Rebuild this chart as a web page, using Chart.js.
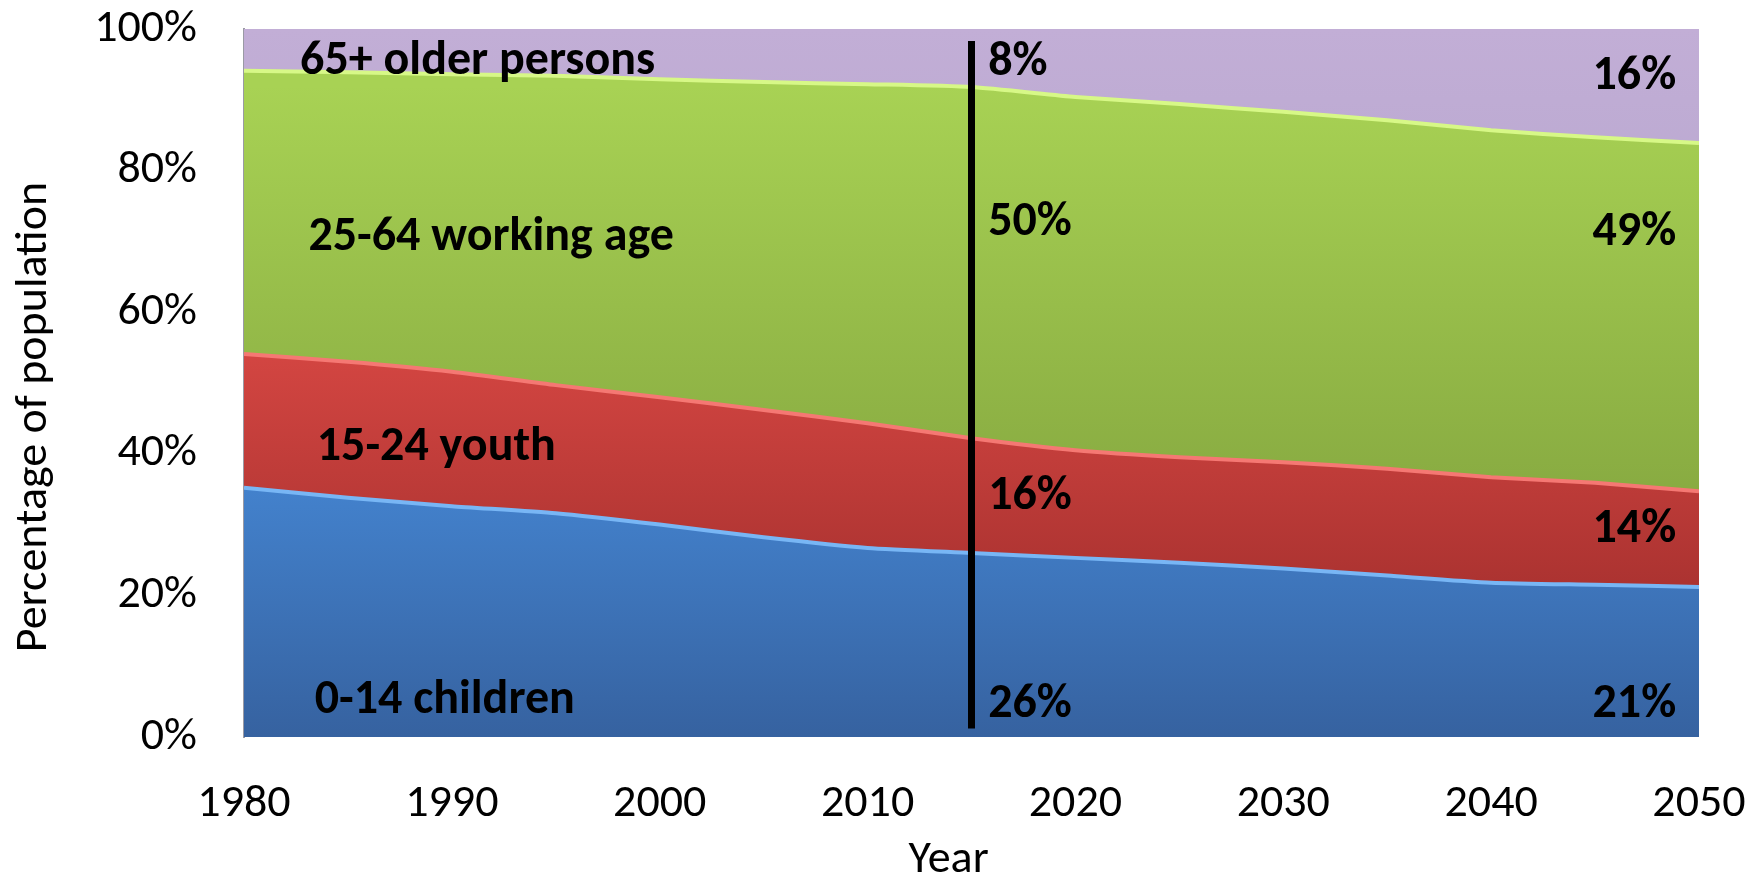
<!DOCTYPE html>
<html>
<head>
<meta charset="utf-8">
<script src="https://cdn.jsdelivr.net/npm/chart.js@4.4.1/dist/chart.umd.min.js"></script>
<style>
  html, body { margin: 0; padding: 0; background: #fff; }
  #wrap { width: 1750px; height: 873px; }
</style>
</head>
<body>
<div id="wrap"><canvas id="myChart" width="1750" height="873"></canvas></div>
<script>
// anos (a cada 5)
const years = [1980, 1985, 1990, 1995, 2000, 2005, 2010, 2015, 2020, 2025, 2030, 2035, 2040, 2045, 2050];
const groupNames = ['0-14 children', '15-24 youth', '25-64 working age', '65+ older persons'];
// percentuais
const children = [35.2, 33.8, 32.6, 31.6, 30.0, 28.2, 26.7, 26.0, 25.3, 24.6, 23.8, 22.8, 21.8, 21.5, 21.2];
const youth    = [18.9, 19.2, 19.0, 18.1, 18.0, 18.0, 17.6, 16.2, 15.2, 14.9, 15.0, 15.1, 14.9, 14.4, 13.5];
const working  = [40.0, 40.9, 42.0, 43.7, 44.9, 46.3, 47.9, 49.6, 49.9, 49.9, 49.5, 49.2, 49.0, 48.8, 49.2];
const older    = [5.9, 6.1, 6.4, 6.6, 7.1, 7.5, 7.8, 8.2, 9.6, 10.6, 11.7, 12.9, 14.3, 15.3, 16.1];
const xTicks = [1980, 1990, 2000, 2010, 2020, 2030, 2040, 2050];
const yTicks = [0, 20, 40, 60, 80, 100];
const markerYear = 2015;

// textos dentro do grafico (posicao em ano / %)
const notes = [
    { text: '65+ older persons', x: 1982.7, y: 95.4, align: 'left' },
    { text: '25-64 working age', x: 1983.1, y: 70.5, align: 'left' },
    { text: '15-24 youth', x: 1983.5, y: 40.8, align: 'left' },
    { text: '0-14 children', x: 1983.4, y: 5.1, align: 'left' },
    { text: '8%', x: 2015.8, y: 95.2, align: 'left' },
    { text: '50%', x: 2015.8, y: 72.6, align: 'left' },
    { text: '16%', x: 2015.8, y: 33.9, align: 'left' },
    { text: '26%', x: 2015.8, y: 4.5, align: 'left' },
    { text: '16%', x: 2048.9, y: 93.2, align: 'right' },
    { text: '49%', x: 2048.9, y: 71.2, align: 'right' },
    { text: '14%', x: 2048.9, y: 29.2, align: 'right' },
    { text: '21%', x: 2048.9, y: 4.5, align: 'right' }
];

const FONT = 'Carlito, Lato, "Open Sans", sans-serif';

// cores: [posicao inicio, cor clara, posicao fim, cor escura, borda]
const estilos = [
    [0.62, 'rgb(68,132,208)', 1.0, 'rgb(54,98,160)', 'rgb(120,182,245)'],
    [0.45, 'rgb(212,70,66)', 0.8, 'rgb(170,50,48)', 'rgb(245,120,115)'],
    [0.08, 'rgb(168,210,84)', 0.7, 'rgb(134,168,64)', 'rgb(215,248,135)'],
    [0.0, 'rgb(194,174,214)', 0.2, 'rgb(188,170,210)', 'rgb(225,210,238)']
];

function gradiente(i) {
    return (ctx) => {
        const area = ctx.chart.chartArea;
        const e = estilos[i];
        if (!area) return e[1];
        const g = ctx.chart.ctx.createLinearGradient(0, area.top, 0, area.bottom);
        g.addColorStop(e[0], e[1]);
        g.addColorStop(e[2], e[3]);
        return g;
    };
}

const series = [children, youth, working, older];
const datasets = series.map((vals, i) => ({
    label: groupNames[i],
    data: vals.map((v, k) => ({ x: years[k], y: v })),
    backgroundColor: gradiente(i),
    borderColor: estilos[i][4],
    borderWidth: i === 3 ? 0 : 4,
    fill: i === 0 ? 'origin' : '-1',
    pointRadius: 0,
    tension: 0.2
}));

const extras = {
    id: 'extras',
    afterDatasetsDraw(chart) {
        const c = chart.ctx;
        const xs = chart.scales.x, ys = chart.scales.y;
        // linha vertical em 2015
        const lx = xs.getPixelForValue(markerYear);
        c.save();
        c.strokeStyle = '#000';
        c.lineWidth = 7;
        c.beginPath();
        c.moveTo(lx, ys.getPixelForValue(98.3));
        c.lineTo(lx, ys.getPixelForValue(1.2));
        c.stroke();
        // textos
        c.fillStyle = '#000';
        c.font = 'bold 48px ' + FONT;
        c.textBaseline = 'middle';
        notes.forEach(n => {
            c.textAlign = n.align;
            c.fillText(n.text, xs.getPixelForValue(n.x), ys.getPixelForValue(n.y));
        });
        // titulos dos eixos
        c.font = '46px ' + FONT;
        c.textAlign = 'center';
        c.fillText('Year', xs.getPixelForValue(2013.9), 860);
        c.translate(34, ys.getPixelForValue(45.2));
        c.rotate(-Math.PI / 2);
        c.fillText('Percentage of population', 0, 0);
        c.restore();
    }
};

const config = {
    type: 'line',
    data: { datasets: datasets },
    options: {
        responsive: false,
        animation: false,
        layout: { padding: { top: 29, right: 51, left: 0, bottom: 0 } },
        plugins: { legend: { display: false }, tooltip: { enabled: false } },
        scales: {
            x: {
                type: 'linear',
                min: 1980, max: 2050,
                afterBuildTicks: (s) => { s.ticks = xTicks.map(v => ({ value: v })); },
                afterFit: (s) => { s.height = 136; },
                grid: { display: true, drawOnChartArea: false, drawTicks: true, tickLength: 40, color: 'rgba(0,0,0,0)' },
                border: { display: false },
                ticks: { color: '#000', padding: 0, maxRotation: 0, font: { family: FONT, size: 46 }, callback: v => String(v) }
            },
            y: {
                stacked: true,
                min: 0, max: 100,
                afterBuildTicks: (s) => { s.ticks = yTicks.map(v => ({ value: v })); },
                afterFit: (s) => { s.width = 244; },
                grid: { display: true, drawOnChartArea: false, drawTicks: true, tickLength: 47, color: 'rgba(0,0,0,0)' },
                border: { display: true, color: '#9a9aa4', width: 2 },
                ticks: { color: '#000', padding: 0, font: { family: FONT, size: 46 }, callback: v => v + '%' }
            }
        }
    },
    plugins: [extras]
};

const myChart = new Chart(document.getElementById('myChart'), config);
</script>
</body>
</html>
